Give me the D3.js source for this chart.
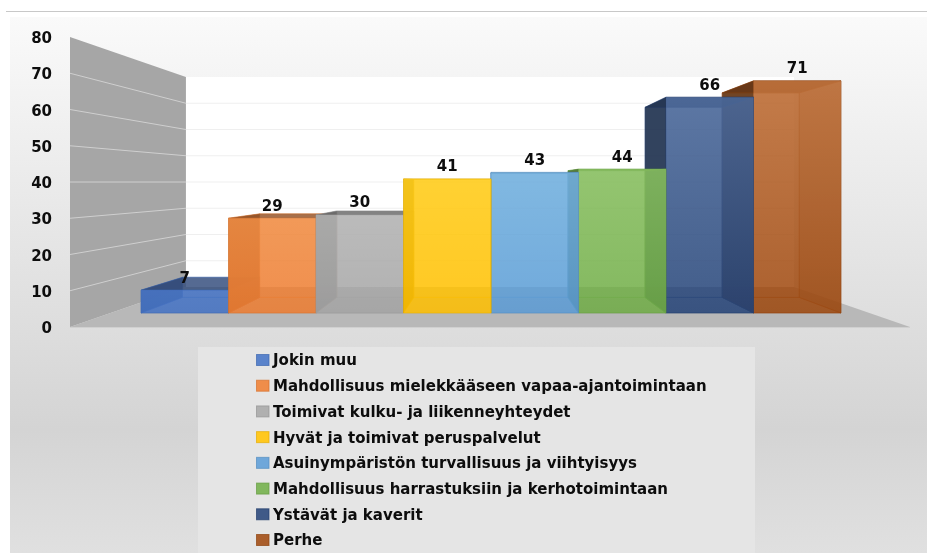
<!DOCTYPE html>
<html><head><meta charset="utf-8">
<script src="https://cdn.jsdelivr.net/npm/d3@7/dist/d3.min.js"></script>
<style>
html,body{margin:0;padding:0;background:#fff;overflow:hidden}
svg{display:block;filter:blur(0.45px)}
text{font-family:"DejaVu Sans",sans-serif;font-weight:700;fill:#0d0d0d}
</style></head><body>
<svg id="c" width="927" height="553"></svg>
<script>
const categories=["Jokin muu","Mahdollisuus mielekkääseen vapaa-ajantoimintaan","Toimivat kulku- ja liikenneyhteydet","Hyvät ja toimivat peruspalvelut","Asuinympäristön turvallisuus ja viihtyisyys","Mahdollisuus harrastuksiin ja kerhotoimintaan","Ystävät ja kaverit","Perhe"];
const values=[7,29,30,41,43,44,66,71];
const colors=["#4472c4","#ed7d31","#a5a5a5","#ffc000","#5b9bd5","#70ad47","#264478","#9e480e"];
const ticks=[0,10,20,30,40,50,60,70,80];

const W=927,H=553,vp=[490,182],fWall=0.724,fBar=0.881;
const svg=d3.select("#c");
const defs=svg.append("defs");
const bg=defs.append("linearGradient").attr("id","bg").attr("x1",0).attr("x2",0).attr("y1",0).attr("y2",1);
bg.append("stop").attr("offset",0).attr("stop-color","#fafafa");
bg.append("stop").attr("offset",.77).attr("stop-color","#d4d4d4");
bg.append("stop").attr("offset",1).attr("stop-color","#e0e0e0");

const project=(x,y,f)=>[vp[0]+f*(x-vp[0]),vp[1]+f*(y-vp[1])];
const poly=pts=>"M"+pts.map(p=>p.join(",")).join("L")+"Z";

const yWall=d3.scaleLinear().domain([0,80]).range([327,37]);
const yBar=d3.scaleLinear().domain([0,80]).range([313,51.4]);
const xBar=d3.scaleBand().domain(categories).range([141,841]).padding(0);

// page frame
svg.append("line").attr("x1",6).attr("x2",W).attr("y1",11.5).attr("y2",11.5).attr("stroke","#c8c8c8");
svg.append("rect").attr("x",10).attr("y",17).attr("width",W-10).attr("height",H-17).attr("fill","url(#bg)");

// walls and floor
const xL=70,xR=910,y0=yWall(0),yT=yWall(80);
svg.append("path").attr("d",poly([project(xL,yT,fWall),project(xR,yT,fWall),project(xR,y0,fWall),project(xL,y0,fWall)])).attr("fill","#fff");
svg.append("path").attr("d",poly([[xL,yT],project(xL,yT,fWall),project(xL,y0,fWall),[xL,y0]])).attr("fill","#a6a6a6");
svg.append("path").attr("d",poly([[xL,y0],project(xL,y0,fWall),project(xR,y0,fWall),[xR,y0]])).attr("fill","#b8b8b8");
svg.append("line").attr("x1",xL).attr("x2",xR).attr("y1",y0+.5).attr("y2",y0+.5).attr("stroke","#d0d0d0");
const gridTicks=ticks.filter(t=>t>0&&t<80);
svg.append("g").selectAll("line").data(gridTicks).join("line")
 .attr("x1",xL).attr("y1",d=>yWall(d))
 .attr("x2",d=>project(xL,yWall(d),fWall)[0]).attr("y2",d=>project(xL,yWall(d),fWall)[1])
 .attr("stroke","#cfcfcf").attr("stroke-width",1);
svg.append("g").selectAll("line").data(gridTicks).join("line")
 .attr("x1",d=>project(xL,yWall(d),fWall)[0]).attr("y1",d=>project(xL,yWall(d),fWall)[1])
 .attr("x2",d=>project(xR,yWall(d),fWall)[0]).attr("y2",d=>project(xL,yWall(d),fWall)[1])
 .attr("stroke","#efefef").attr("stroke-width",1.2);

// value axis
const axis=d3.axisLeft(yWall).tickValues(ticks).tickSize(0).tickPadding(0);
const gA=svg.append("g").attr("transform","translate(52,0.8)").call(axis);
gA.select(".domain").remove();
gA.selectAll("text").style("font-size","15px").style("font-family",'"DejaVu Sans",sans-serif').style("font-weight",700).attr("fill","#0d0d0d");

// bars, outermost first so the ones near the vanishing point end up on top
const data=categories.map((c,i)=>({c,v:values[i],col:colors[i],i}));
const center=d=>xBar(d.c)+xBar.bandwidth()/2;
const order=data.slice().sort((a,b)=>Math.abs(center(b)-vp[0])-Math.abs(center(a)-vp[0]));
const gB=svg.append("g");
order.forEach(d=>{
 const x0=xBar(d.c),x1=x0+xBar.bandwidth(),yb=yBar(0),yt=yBar(d.v);
 const F=[[x0,yt],[x1,yt],[x1,yb],[x0,yb]];
 const B=F.map(p=>project(p[0],p[1],fBar));
 const base=d3.color(d.col),dark=d3.interpolateRgb(base.darker(1),"#444")(.2),edge=base.darker(.3).formatHex();
 const light=d3.rgb(d3.interpolateRgb(base.brighter(1.5),"#fff")(.5)).formatHex();
 const sh=defs.append("linearGradient").attr("id","sheen"+d.i).attr("gradientUnits","userSpaceOnUse").attr("x1",0).attr("x2",0).attr("y1",81).attr("y2",313);
 sh.append("stop").attr("offset",0).attr("stop-color",light).attr("stop-opacity",.3);
 sh.append("stop").attr("offset",1).attr("stop-color",light).attr("stop-opacity",0);
 const g=gB.append("g").attr("stroke",edge).attr("stroke-opacity",.55).attr("stroke-width",.7);
 g.append("path").attr("d",poly(B)).attr("fill",d.col).attr("fill-opacity",.12);
 g.append("path").attr("d",poly([F[3],F[2],B[2],B[3]])).attr("fill",dark).attr("fill-opacity",.1);
 g.append("path").attr("d",poly([F[0],F[3],B[3],B[0]])).attr("fill",dark).attr("fill-opacity",.92);
 g.append("path").attr("d",poly([F[1],F[2],B[2],B[1]])).attr("fill",dark).attr("fill-opacity",.35);
 g.append("path").attr("d",poly([F[0],F[1],B[1],B[0]])).attr("fill",dark).attr("fill-opacity",.82);
 g.append("path").attr("d",poly(F)).attr("fill",d.col).attr("fill-opacity",.85);
 g.append("path").attr("d",poly(F)).attr("fill","url(#sheen"+d.i+")").attr("stroke","none");
});

// value labels
svg.append("g").selectAll("text").data(data).join("text")
 .attr("x",center).attr("y",d=>yBar(d.v)-13).attr("dy","0.36em").attr("text-anchor","middle")
 .style("font-size","15px").text(d=>d.v);

// legend
const yLeg=d3.scalePoint().domain(categories).range([360,540]);
svg.append("rect").attr("x",198).attr("y",347).attr("width",557).attr("height",H-347).attr("fill","#e5e5e5");
const gL=svg.append("g").selectAll("g").data(data).join("g").attr("transform",d=>`translate(256,${yLeg(d.c)})`);
gL.append("rect").attr("x",.5).attr("y",-5.5).attr("width",12.5).attr("height",11)
 .attr("fill",d=>{const c=d3.color(d.col);return d3.interpolateRgb(c,"#fff")(.12)}).attr("stroke",d=>d3.color(d.col).darker(.3)).attr("stroke-opacity",.7);
gL.append("text").attr("x",17).attr("dy","0.36em").style("font-size","15px").text(d=>d.c);
</script>
</body></html>
